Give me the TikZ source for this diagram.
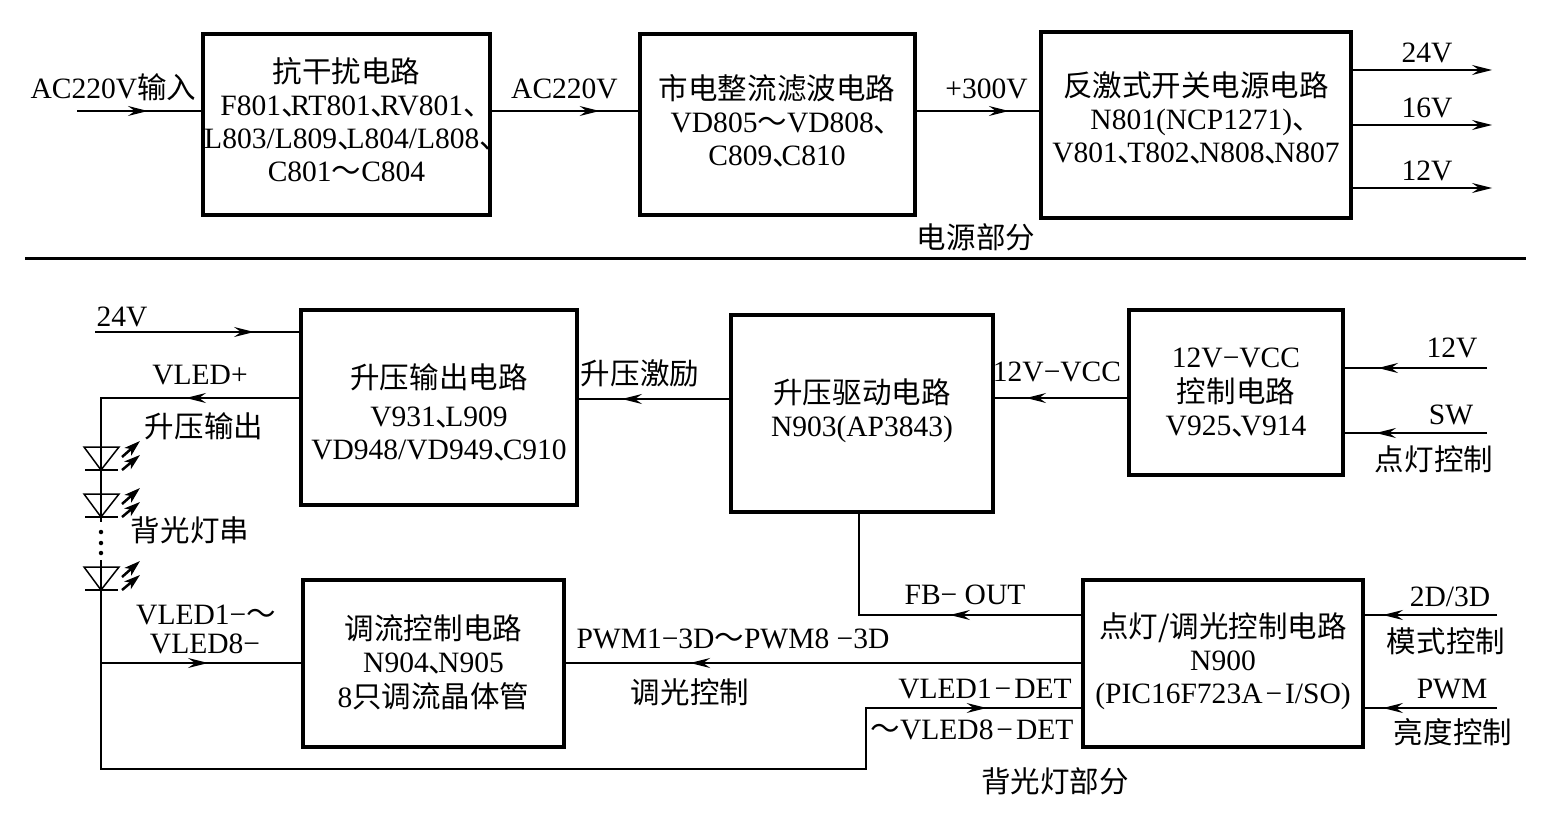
\documentclass[tikz,border=0pt]{standalone}
\usepackage{fontspec}
\setmainfont{Liberation Serif}
\newfontfamily\cjk{Noto Sans CJK SC}
\usetikzlibrary{arrows.meta,decorations.markings}

\newcommand{\zh}[1]{{\cjk #1}}
\newcommand{\dun}{{\cjk 、}\kern-.68em}
\newcommand{\til}{{\cjk ～}}
\newcommand{\mn}{\kern.1em−\kern.1em}
\newcommand{\boxlines}[2]{\makebox[0pt]{\raisebox{\dimexpr#1-.35em\relax}[0pt][0pt]{\begin{tabular}{@{}c@{}}#2\end{tabular}}}}

\tikzset{
  every node/.style={font=\fontsize{16.8}{18.8}\selectfont, inner sep=0pt, outer sep=0pt},
  boxnode/.style 2 args={draw, line width=0.08cm, minimum width=#1*0.02cm, minimum height=#2*0.02cm},
  wire/.style={line width=0.03cm},
  wirethick/.style={line width=0.04cm},
  tip/.style={postaction={decorate}, decoration={markings, mark=at position #1 with {\arrow{Stealth[length=0.4cm,width=0.2cm,inset=0.14cm]}}}},
  outwire/.style={wire, -{Stealth[length=0.4cm,width=0.2cm,inset=0.14cm]}},
  ray/.style={line width=0.05cm, -{Stealth[length=0.32cm,width=0.2cm,inset=0.08cm]}}
}

\begin{document}
\begin{tikzpicture}[x=0.02cm, y=-0.02cm]
\useasboundingbox (0,0) rectangle (1554,817);

% power part
\node[boxnode={287}{181}] (filter) at (346.5,124.5) {\boxlines{0.06cm}{\zh{抗干扰电路}\\F801\dun RT801\dun RV801\dun\\L803/L809\dun L804/L808\dun\\C801\til C804}};
\node[boxnode={275}{181}] (rectifier) at (777,124.5) {\boxlines{0.05cm}{\zh{市电整流滤波电路}\\VD805\til VD808\dun\\C809\dun C810}};
\node[boxnode={310}{186}] (flyback) at (1196,125) {\boxlines{0.12cm}{\zh{反激式开关电源电路}\\N801(NCP1271)\dun\\V801\dun T802\dun N808\dun N807}};

\coordinate (acin) at (77,111);
\coordinate (out24) at (1492,70);
\coordinate (out16) at (1492,125);
\coordinate (out12) at (1492,188);

\draw[wire, tip=0.563] (acin) -- (filter.west |- acin);
\draw[wire, tip=0.733] (filter.east |- acin) -- (rectifier.west |- acin);
\draw[wire, tip=0.746] (rectifier.east |- acin) -- (flyback.west |- acin);
\draw[outwire] (flyback.east |- out24) -- (out24);
\draw[outwire] (flyback.east |- out16) -- (out16);
\draw[outwire] (flyback.east |- out12) -- (out12);

\node (acinlabel) at (113.5,87) {AC220V\zh{输入}};
\node (aclabel) at (564.5,89) {AC220V};
\node (hvlabel) at (986.5,89) {+300V};
\node (v24label) at (1427,53) {24V};
\node (v16label) at (1427,108) {16V};
\node (v12label) at (1427,171) {12V};
\node (powerlabel) at (976,237) {\zh{电源部分}};

% divider
\coordinate (divleft) at (25,259);
\coordinate (divright) at (1526,259);
\draw[line width=0.06cm] (divleft) -- (divright);

% backlight part
\node[boxnode={276}{195}] (boost) at (439,407.5) {\boxlines{-0.12cm}{\zh{升压输出电路}\\[3pt]V931\dun L909\\VD948/VD949\dun C910}};
\node[boxnode={262}{197}] (driver) at (862,413.5) {\boxlines{0.07cm}{\zh{升压驱动电路}\\N903(AP3843)}};
\node[boxnode={214}{165}] (vcc) at (1236,392.5) {\boxlines{0cm}{12V−VCC\\\zh{控制电路}\\V925\dun V914}};
\node[boxnode={261}{167}] (dimmer) at (433.5,663.5) {\boxlines{0cm}{\zh{调流控制电路}\\N904\dun N905\\8\zh{只调流晶体管}}};
\node[boxnode={280}{167}] (mcu) at (1223,663.5) {\boxlines{0.06cm}{\zh{点灯/调光控制电路}\\N900\\(PIC16F723A\mn I/SO)}};

\coordinate (in24) at (95,332);
\coordinate (ledtop) at (101,398);
\coordinate (ledmid) at (101,522);
\coordinate (ledlow) at (101,560);
\coordinate (ledbot) at (101,769);
\coordinate (detup) at (866,769);
\coordinate (detin) at (866,708);
\coordinate (vledjoin) at (101,663);
\coordinate (drvlink) at (731,399);
\coordinate (vcclink) at (1129,398);
\coordinate (in12) at (1487,368);
\coordinate (insw) at (1487,433);
\coordinate (fbturn) at (859,615);
\coordinate (in3d) at (1497,615);
\coordinate (pwmlink) at (1083,663);
\coordinate (inpwm) at (1497,708);

\draw[wire, tip=0.772] (in24) -- (boost.west |- in24);
\draw[wirethick, tip=0.355] (boost.west |- ledtop) -- (ledtop) -- (ledmid);
\draw[wire, tip=0.923] (ledlow) -- (ledbot) -- (detup) -- (detin) -- (mcu.west |- detin);
\draw[wire, tip=0.53] (vledjoin) -- (dimmer.west |- vledjoin);
\draw[wire, tip=0.708] (drvlink) -- (boost.east |- drvlink);
\draw[wire, tip=0.757] (vcclink) -- (driver.east |- vcclink);
\draw[wirethick, tip=0.757] (in12) -- (vcc.east |- in12);
\draw[wire, tip=0.771] (insw) -- (vcc.east |- insw);
\draw[wire, tip=0.407] (mcu.west |- fbturn) -- (fbturn) -- (driver.south -| fbturn);
\draw[wirethick, tip=0.757] (pwmlink) -- (dimmer.east |- pwmlink);
\draw[wire, tip=0.851] (in3d) -- (mcu.east |- in3d);
\draw[wire, tip=0.851] (inpwm) -- (mcu.east |- inpwm);

% LED string
\foreach \ledy in {470,517,590} {
  \begin{scope}[shift={(0,\ledy)}]
    \draw[wire] (84,-23) -- (119,-23) -- (101,0) -- cycle;
    \draw[wire] (85,0) -- (118,0);
    \draw[ray] (122,-13) -- (140,-29);
    \draw[ray] (122,0) -- (140,-15);
  \end{scope}
}
\fill (101,532) circle (0.045cm);
\fill (101,543) circle (0.045cm);
\fill (101,553) circle (0.045cm);

\node (in24label) at (122,317) {24V};
\node (vledlabel) at (200,375) {VLED+};
\node (boostoutlabel) at (204,426) {\zh{升压输出}};
\node (stringlabel) at (190,530) {\zh{背光灯串}};
\node (vledalabel) at (206,615) {VLED1−\til};
\node (vledblabel) at (205,644) {VLED8−};
\node (excitelabel) at (640,373) {\zh{升压激励}};
\node (vcclabel) at (1057,372) {12V−VCC};
\node (in12label) at (1452,348) {12V};
\node (swlabel) at (1451,415) {SW};
\node (lightlabel) at (1434,459) {\zh{点灯控制}};
\node (fblabel) at (965,595) {FB− OUT};
\node (in3dlabel) at (1450,597) {2D/3D};
\node (modelabel) at (1446,641) {\zh{模式控制}};
\node (pwmlabel) at (733,639) {PWM1−3D\til PWM8 −3D};
\node (dimlabel) at (690,692) {\zh{调光控制}};
\node (detalabel) at (985,689) {VLED1\mn DET};
\node (detblabel) at (972,730) {\til VLED8\mn DET};
\node (inpwmlabel) at (1452,689) {PWM};
\node (brightlabel) at (1453,732) {\zh{亮度控制}};
\node (backlabel) at (1055,781) {\zh{背光灯部分}};
\end{tikzpicture}
\end{document}
